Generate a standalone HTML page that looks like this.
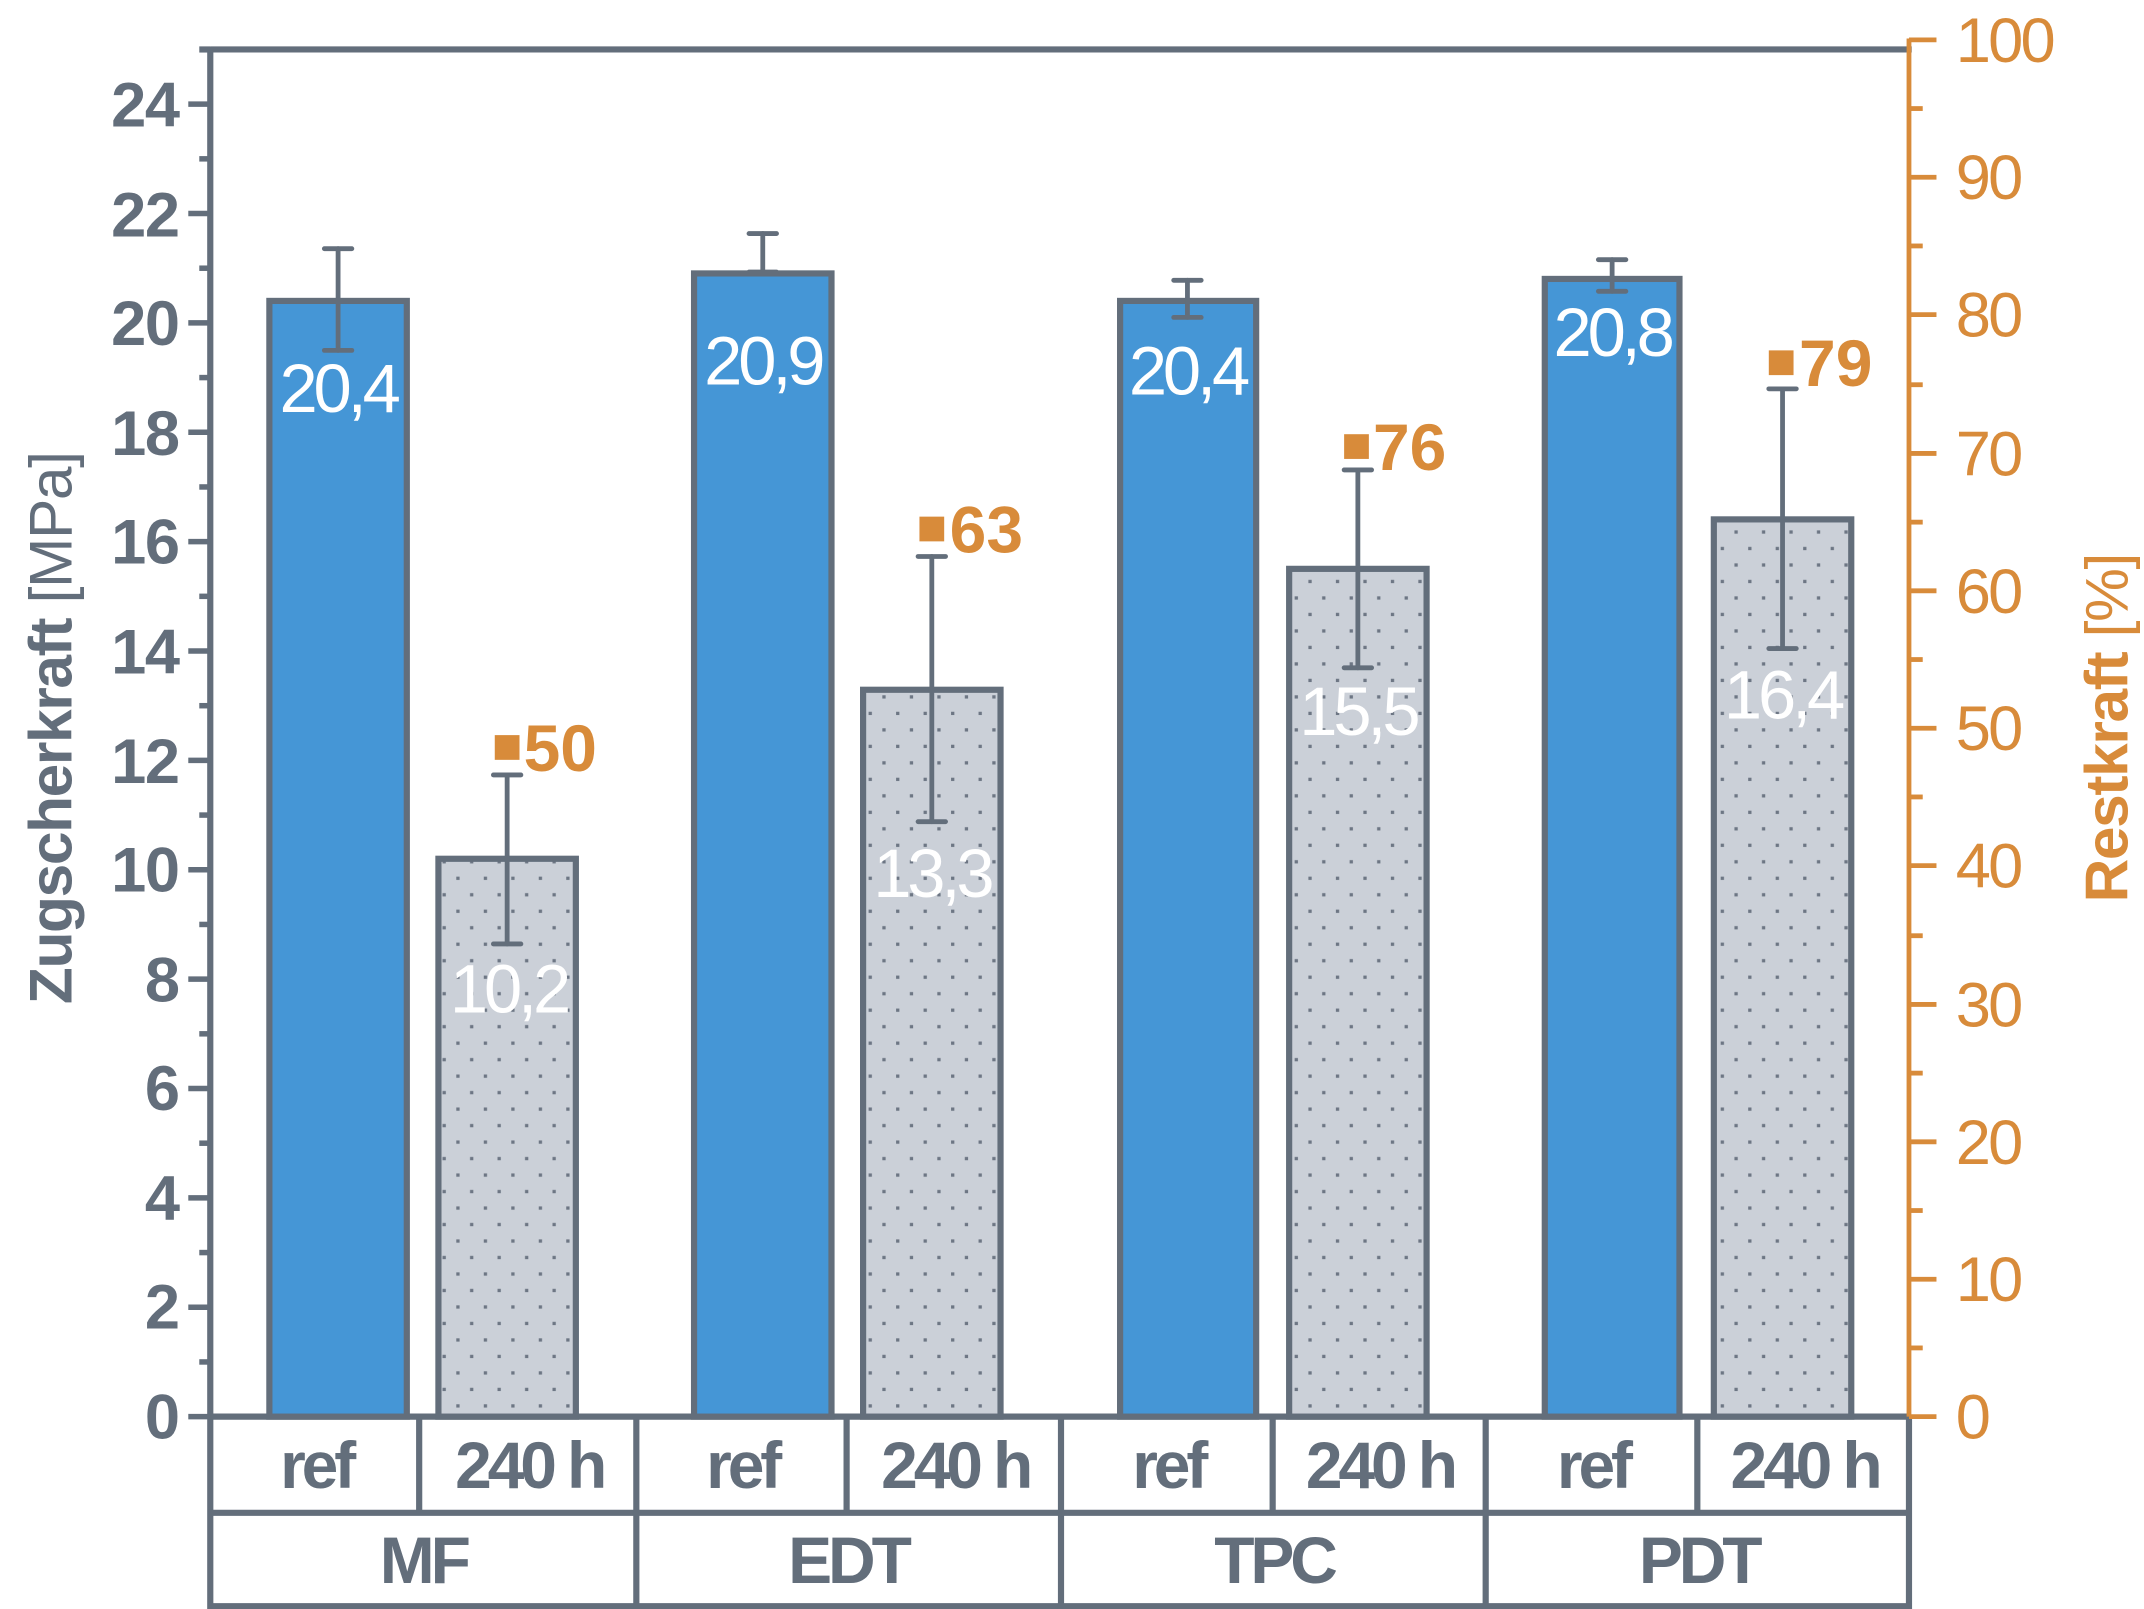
<!DOCTYPE html>
<html><head><meta charset="utf-8"><style>
html,body{margin:0;padding:0;background:#fff}
svg{display:block}
text{font-family:"Liberation Sans Narrow","Liberation Sans",sans-serif}
</style></head><body>
<svg width="2144" height="1609" viewBox="0 0 1560 1171" preserveAspectRatio="none" xmlns="http://www.w3.org/2000/svg">
<defs>
<pattern id="dots" width="20" height="24" patternUnits="userSpaceOnUse">
<rect width="20" height="24" fill="#cbd0d8"/>
<rect x="2" y="2" width="2.4" height="2.4" fill="#6d7684"/>
<rect x="12" y="14" width="2.4" height="2.4" fill="#6d7684"/>
</pattern>
</defs>
<g stroke="#636e7b" stroke-width="4.5" fill="none">
<line x1="153" y1="36" x2="1391" y2="36"/>
<line x1="153" y1="34" x2="153" y2="1171"/>
<line x1="151" y1="1031" x2="1389" y2="1031"/>
<line x1="151" y1="1101" x2="1389" y2="1101"/>
<line x1="151" y1="1169" x2="1391" y2="1169"/>
<line x1="1389" y1="1031" x2="1389" y2="1171"/>
<line x1="305" y1="1031" x2="305" y2="1101"/>
<line x1="616" y1="1031" x2="616" y2="1101"/>
<line x1="926" y1="1031" x2="926" y2="1101"/>
<line x1="1235" y1="1031" x2="1235" y2="1101"/>
<line x1="463" y1="1031" x2="463" y2="1171"/>
<line x1="772" y1="1031" x2="772" y2="1171"/>
<line x1="1081" y1="1031" x2="1081" y2="1171"/>
<line x1="145" y1="36" x2="153" y2="36"/>
</g>
<g stroke="#636e7b" stroke-width="4">
<line x1="137" y1="1031" x2="153" y2="1031"/><line x1="145" y1="991.2" x2="153" y2="991.2"/>
<line x1="137" y1="951.4" x2="153" y2="951.4"/><line x1="145" y1="911.6" x2="153" y2="911.6"/>
<line x1="137" y1="871.8" x2="153" y2="871.8"/><line x1="145" y1="832" x2="153" y2="832"/>
<line x1="137" y1="792.2" x2="153" y2="792.2"/><line x1="145" y1="752.4" x2="153" y2="752.4"/>
<line x1="137" y1="712.6" x2="153" y2="712.6"/><line x1="145" y1="672.8" x2="153" y2="672.8"/>
<line x1="137" y1="633" x2="153" y2="633"/><line x1="145" y1="593.2" x2="153" y2="593.2"/>
<line x1="137" y1="553.4" x2="153" y2="553.4"/><line x1="145" y1="513.6" x2="153" y2="513.6"/>
<line x1="137" y1="473.8" x2="153" y2="473.8"/><line x1="145" y1="434" x2="153" y2="434"/>
<line x1="137" y1="394.2" x2="153" y2="394.2"/><line x1="145" y1="354.4" x2="153" y2="354.4"/>
<line x1="137" y1="314.6" x2="153" y2="314.6"/><line x1="145" y1="274.8" x2="153" y2="274.8"/>
<line x1="137" y1="235" x2="153" y2="235"/><line x1="145" y1="195.2" x2="153" y2="195.2"/>
<line x1="137" y1="155.4" x2="153" y2="155.4"/><line x1="145" y1="115.6" x2="153" y2="115.6"/>
<line x1="137" y1="75.8" x2="153" y2="75.8"/>
</g>
<g fill="#636e7b" font-size="46" font-weight="bold" text-anchor="end" letter-spacing="-1">
<text x="130" y="1047">0</text><text x="130" y="967">2</text><text x="130" y="888">4</text>
<text x="130" y="808">6</text><text x="130" y="729">8</text><text x="130" y="649">10</text>
<text x="130" y="570">12</text><text x="130" y="490">14</text><text x="130" y="410">16</text>
<text x="130" y="331">18</text><text x="130" y="251">20</text><text x="130" y="172">22</text>
<text x="130" y="92">24</text>
</g>
<text transform="translate(52,530) rotate(-90)" text-anchor="middle" font-size="44" fill="#636e7b" letter-spacing="-1"><tspan font-weight="bold">Zugscherkraft</tspan> [MPa]</text>
<g stroke="#d88b3a" stroke-width="3.5">
<line x1="1389" y1="28" x2="1389" y2="1031"/>
<line x1="1389" y1="1031" x2="1409" y2="1031"/><line x1="1389" y1="981" x2="1399" y2="981"/>
<line x1="1389" y1="931" x2="1409" y2="931"/><line x1="1389" y1="881" x2="1399" y2="881"/>
<line x1="1389" y1="831" x2="1409" y2="831"/><line x1="1389" y1="781" x2="1399" y2="781"/>
<line x1="1389" y1="731" x2="1409" y2="731"/><line x1="1389" y1="681" x2="1399" y2="681"/>
<line x1="1389" y1="630" x2="1409" y2="630"/><line x1="1389" y1="580" x2="1399" y2="580"/>
<line x1="1389" y1="530" x2="1409" y2="530"/><line x1="1389" y1="480" x2="1399" y2="480"/>
<line x1="1389" y1="430" x2="1409" y2="430"/><line x1="1389" y1="380" x2="1399" y2="380"/>
<line x1="1389" y1="330" x2="1409" y2="330"/><line x1="1389" y1="280" x2="1399" y2="280"/>
<line x1="1389" y1="229" x2="1409" y2="229"/><line x1="1389" y1="179" x2="1399" y2="179"/>
<line x1="1389" y1="129" x2="1409" y2="129"/><line x1="1389" y1="79" x2="1399" y2="79"/>
<line x1="1389" y1="29" x2="1409" y2="29"/>
</g>
<g fill="#d88b3a" font-size="46" letter-spacing="-2">
<text x="1423" y="1047">0</text><text x="1423" y="947">10</text><text x="1423" y="847">20</text>
<text x="1423" y="747">30</text><text x="1423" y="646">40</text><text x="1423" y="546">50</text>
<text x="1423" y="446">60</text><text x="1423" y="346">70</text><text x="1423" y="245">80</text>
<text x="1423" y="145">90</text><text x="1423" y="45">100</text>
</g>
<text transform="translate(1548,530) rotate(-90)" text-anchor="middle" font-size="44" fill="#d88b3a" letter-spacing="-1"><tspan font-weight="bold">Restkraft</tspan> [%]</text>
<g stroke="#636e7b" stroke-width="4.5">
<rect x="196" y="219" width="100" height="812" fill="#4596d6"/>
<rect x="319" y="625" width="100" height="406" fill="url(#dots)"/>
<rect x="505" y="199" width="100" height="832" fill="#4596d6"/>
<rect x="628" y="502" width="100" height="529" fill="url(#dots)"/>
<rect x="815" y="219" width="99" height="812" fill="#4596d6"/>
<rect x="938" y="414" width="100" height="617" fill="url(#dots)"/>
<rect x="1124" y="203" width="98" height="828" fill="#4596d6"/>
<rect x="1247" y="378" width="100" height="653" fill="url(#dots)"/>
</g>
<g stroke="#636e7b" stroke-width="3.5" stroke-linecap="round">
<line x1="246" y1="181" x2="246" y2="255"/><line x1="236" y1="181" x2="256" y2="181"/><line x1="236" y1="255" x2="256" y2="255"/>
<line x1="369" y1="564" x2="369" y2="687"/><line x1="359" y1="564" x2="379" y2="564"/><line x1="359" y1="687" x2="379" y2="687"/>
<line x1="555" y1="170" x2="555" y2="198"/><line x1="545" y1="170" x2="565" y2="170"/><line x1="545" y1="198" x2="565" y2="198"/>
<line x1="678" y1="405" x2="678" y2="598"/><line x1="668" y1="405" x2="688" y2="405"/><line x1="668" y1="598" x2="688" y2="598"/>
<line x1="864" y1="204" x2="864" y2="231"/><line x1="854" y1="204" x2="874" y2="204"/><line x1="854" y1="231" x2="874" y2="231"/>
<line x1="988" y1="342" x2="988" y2="486"/><line x1="978" y1="342" x2="998" y2="342"/><line x1="978" y1="486" x2="998" y2="486"/>
<line x1="1173" y1="189" x2="1173" y2="212"/><line x1="1163" y1="189" x2="1183" y2="189"/><line x1="1163" y1="212" x2="1183" y2="212"/>
<line x1="1297" y1="283" x2="1297" y2="472"/><line x1="1287" y1="283" x2="1307" y2="283"/><line x1="1287" y1="472" x2="1307" y2="472"/>
</g>
<g fill="#fff" font-size="50" text-anchor="middle" letter-spacing="-3">
<text x="246" y="300">20,4</text>
<text x="370" y="737">10,2</text>
<text x="555" y="280">20,9</text>
<text x="678" y="653">13,3</text>
<text x="864" y="287">20,4</text>
<text x="988" y="535">15,5</text>
<text x="1173" y="259">20,8</text>
<text x="1297" y="523">16,4</text>
</g>
<g fill="#d88b3a" font-size="48" font-weight="bold">
<rect x="360" y="535" width="18" height="18"/><text x="381" y="561">50</text>
<rect x="669" y="376" width="18" height="18"/><text x="691" y="402">63</text>
<rect x="978" y="316" width="18" height="18"/><text x="999" y="342">76</text>
<rect x="1287" y="255" width="18" height="18"/><text x="1309" y="281">79</text>
</g>
<g fill="#636e7b" font-size="48" font-weight="bold" text-anchor="middle" letter-spacing="-3">
<text x="230" y="1083">ref</text><text x="385" y="1083">240 h</text>
<text x="540" y="1083">ref</text><text x="695" y="1083">240 h</text>
<text x="850" y="1083">ref</text><text x="1004" y="1083">240 h</text>
<text x="1159" y="1083">ref</text><text x="1313" y="1083">240 h</text>
<text x="308" y="1152">MF</text><text x="617" y="1152">EDT</text>
<text x="927" y="1152">TPC</text><text x="1236" y="1152">PDT</text>
</g>
</svg>
</body></html>
